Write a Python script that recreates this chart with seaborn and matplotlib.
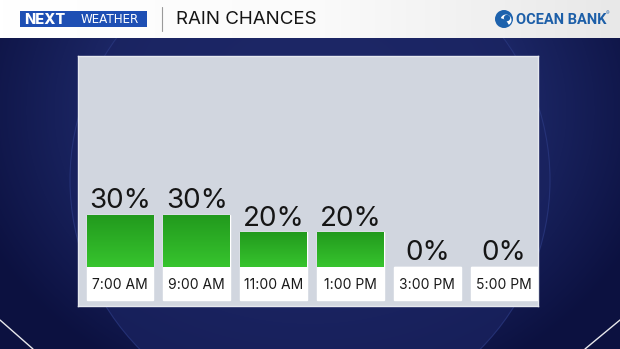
import numpy as np
import pandas as pd
import seaborn as sns
import matplotlib.pyplot as plt
from matplotlib.patches import Rectangle, Circle, Wedge
from matplotlib.colors import LinearSegmentedColormap


times = ["7:00 AM", "9:00 AM", "11:00 AM", "1:00 PM", "3:00 PM", "5:00 PM"]
chances = [30, 30, 20, 20, 0, 0]
title = "RAIN CHANCES"
brand_left = ["NEXT", "WEATHER"]
brand_right = "OCEAN BANK"

W, H = 620, 349
BOX = 19  # depth of the white time-label boxes, in chart units

sns.set_theme(style="white")
plt.rcParams["font.family"] = ["Inter", "DejaVu Sans"]

fig = plt.figure(figsize=(6.2, 3.49), dpi=100)

# backdrop in pixel coordinates
bg = fig.add_axes([0, 0, 1, 1])
bg.set_xlim(0, W)
bg.set_ylim(H, 0)
bg.axis("off")

yy, xx = np.mgrid[0:H, 0:W]
d = np.sqrt(((xx - 310) / 360.0) ** 2 + ((yy - 110) / 300.0) ** 2)
d = np.clip(d, 0, 1)
cmap_bg = LinearSegmentedColormap.from_list("bg", ["#27357d", "#1f2b6d", "#0c1140"])
bg.imshow(d, cmap=cmap_bg, extent=(0, W, H, 0), aspect="auto", zorder=0)
bg.add_patch(Circle((310, 180), 240, fc="#1a2360", ec="#2a3880", lw=0.8, alpha=0.75, zorder=1))
bg.plot([0, 33], [320, 349], color="white", lw=1, alpha=0.9, zorder=2)
bg.plot([620, 585], [320, 349], color="white", lw=1, alpha=0.9, zorder=2)

# header strip
hdr = np.linspace(0, 1, 200)[None, :]
cmap_hdr = LinearSegmentedColormap.from_list("hdr", ["#ffffff", "#fbfbfb", "#e8e8e8"])
bg.imshow(hdr, cmap=cmap_hdr, extent=(0, W, 38, 0), aspect="auto", zorder=3)
bg.add_patch(Rectangle((20, 11), 127, 16, fc="#1e4fb4", ec="none", zorder=4))
bg.text(24, 19.5, brand_left[0], color="white", fontsize=10.5, fontweight="heavy",
        ha="left", va="center", zorder=5)
bg.text(110, 19.5, brand_left[1], color="white", fontsize=8.6, family="DejaVu Sans",
        ha="center", va="center", zorder=5)
bg.plot([162, 162], [7, 31], color="#9a9a9a", lw=0.8, zorder=4)
bg.text(176, 19.5, title, color="#151515", fontsize=13.5, ha="left", va="center", zorder=5)

bg.add_patch(Circle((504, 19), 9, fc="#1d62ad", ec="none", zorder=4))
bg.add_patch(Wedge((506, 20), 5.5, 200, 60, fc="white", ec="none", zorder=5))
bg.add_patch(Circle((507, 18), 3.2, fc="#1d62ad", ec="none", zorder=6))
bg.text(516, 20, brand_right, color="#1d5fa8", fontsize=10.5, fontweight="bold",
        family="Roboto", ha="left", va="center", zorder=5)
bg.text(606, 14, "®", color="#1d5fa8", fontsize=4, ha="left", va="center", zorder=5)

# chart panel
ax = fig.add_axes([78 / W, (H - 306) / H, 460 / W, 250 / H])
ax.set_facecolor("#d1d6df")

df = pd.DataFrame({"time": times, "chance": chances})
sns.barplot(data=df, x="time", y="chance", color="#2db327", saturation=1,
            width=0.87, ax=ax, zorder=3)

cmap_bar = LinearSegmentedColormap.from_list("bar", ["#229a1d", "#37c42e"])
grad = np.linspace(0, 1, 100)[:, None]
for p in list(ax.patches):
    h = p.get_height()
    if h <= 0:
        continue
    x0 = p.get_x()
    ax.imshow(grad, cmap=cmap_bar, extent=(x0, x0 + p.get_width(), 0, h),
              aspect="auto", origin="upper", zorder=4)

sns.barplot(x=times, y=[-BOX] * len(times), color="white", saturation=1,
            width=0.87, ax=ax, zorder=3)

for i, (t, v) in enumerate(zip(times, chances)):
    ax.annotate(f"{v}%", (i, v), xytext=(0, 5), textcoords="offset points",
                ha="center", va="baseline", fontsize=20, color="#151515", zorder=6)
    ax.text(i, -10.2, t, ha="center", va="center", fontsize=10, color="#1a1a1a", zorder=6)

ax.set_xlim(-0.547, 5.44)
ax.set_ylim(-22.5, 122)
ax.set_xticks([])
ax.set_yticks([])
ax.set_xlabel("")
ax.set_ylabel("")
for s in ax.spines.values():
    s.set_color("#e6e9ef")
    s.set_linewidth(1)

fig.savefig("out.png", dpi=100)
